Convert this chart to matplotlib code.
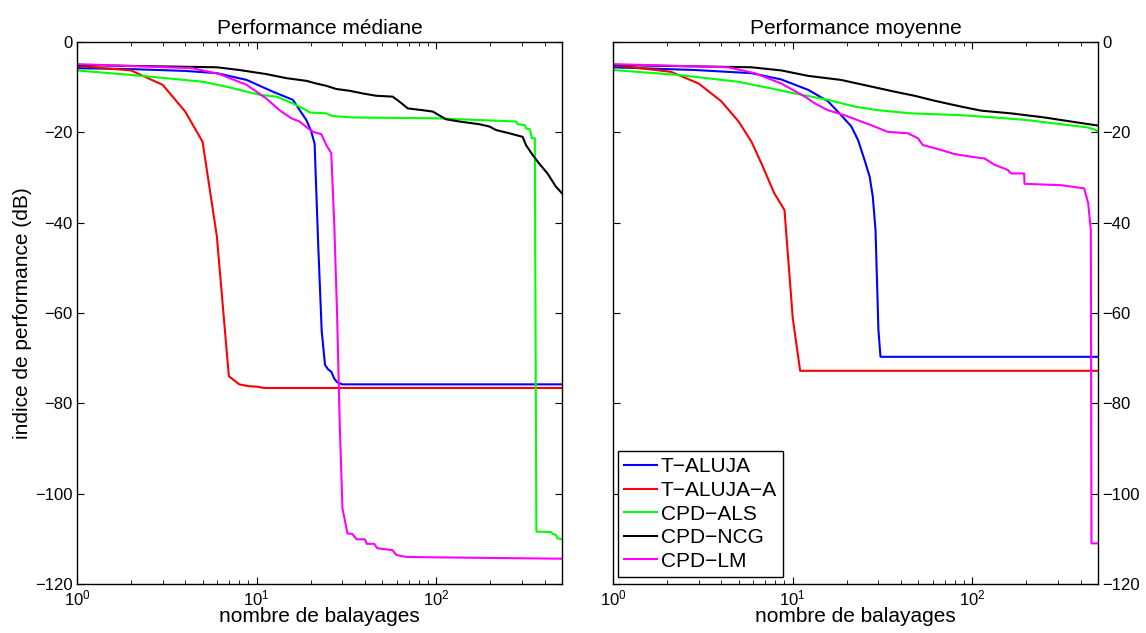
import matplotlib
matplotlib.use("Agg")
import matplotlib.pyplot as plt

plt.rcParams["font.family"] = ["Liberation Sans", "DejaVu Sans"]
plt.rcParams["mathtext.default"] = "regular"

labels = ["T\u2212ALUJA", "T\u2212ALUJA\u2212A", "CPD\u2212ALS", "CPD\u2212NCG", "CPD\u2212LM"]
colors = ["#0000ff", "#ff0000", "#00ff00", "#000000", "#ff00ff"]

# ---- Performance médiane ----
med_taluja_x = [1, 2, 4, 6, 8.8, 12.3, 15.9, 18.9, 20, 21, 22, 23, 24, 25, 26, 27, 28, 30, 500]
med_taluja_y = [-5.8, -6.0, -6.4, -6.9, -8.4, -11.0, -12.8, -17.3, -19.5, -22.5, -45, -64, -71.5,
                -72.5, -73, -74.5, -75.3, -75.8, -75.8]
med_talujaa_x = [1, 2, 3, 4, 5, 6, 7, 8, 9, 10, 11, 500]
med_talujaa_y = [-5.3, -6.3, -9.5, -15.4, -22.1, -43, -74, -75.8, -76.2, -76.3, -76.6, -76.6]
med_als_x = [1, 2.3, 5, 6.8, 10.4, 12.9, 15.9, 18.9, 19.7, 24.4, 26.5, 34.3, 100, 134, 277, 283,
             311, 315, 331, 340, 353, 356, 360, 434, 443, 462, 472, 500]
med_als_y = [-6.3, -7.5, -8.8, -9.9, -11.7, -12.1, -13.6, -15.1, -15.6, -15.8, -16.4, -16.7, -16.9,
             -17.1, -17.6, -18.2, -18.4, -19.1, -19.3, -21.3, -21.3, -60, -108.4, -108.5, -108.9,
             -109.1, -109.9, -110.1]
med_ncg_x = [1, 6, 8, 11.3, 14.6, 18.9, 21.5, 24.4, 27.7, 32.9, 39, 46.2, 57.1, 62.3, 69.3, 84,
             95.4, 113, 134, 173, 197, 215, 254, 302, 315, 343, 373, 415, 462, 500]
med_ncg_y = [-5.1, -5.6, -6.2, -7.1, -8.0, -8.6, -9.2, -9.7, -10.4, -10.8, -11.4, -11.9, -12.1,
             -13.2, -14.7, -15.1, -15.4, -17.1, -17.6, -18.2, -18.7, -19.5, -20.2, -21.0, -22.8,
             -25.0, -26.9, -29.1, -32.0, -33.5]
med_lm_x = [1, 4.4, 6.2, 8.8, 11.3, 13.4, 15.6, 17.3, 19.3, 20.6, 22.9, 24.4, 26, 27, 28, 29, 30,
            32, 34, 36, 40, 41, 45, 47, 57, 60, 68, 100, 500]
med_lm_y = [-4.9, -5.8, -7.1, -9.5, -12.5, -15.1, -16.9, -17.6, -19.1, -19.9, -20.4, -22.8, -24.6,
            -40, -60, -85, -103.2, -108.8, -108.9, -110.1, -110.1, -111.1, -111.1, -112.1, -112.5,
            -113.6, -114, -114.1, -114.4]

# ---- Performance moyenne ----
moy_taluja_x = [1, 2.85, 5.9, 8.65, 12.2, 15.7, 18.6, 21.2, 23.1, 25.1, 26.8, 27.9, 28.9, 30, 30.8, 500]
moy_taluja_y = [-5.6, -6.2, -6.9, -8.3, -10.6, -13.1, -16.2, -18.7, -21.7, -26.1, -29.8, -34.2,
                -41.6, -63.8, -69.7, -69.7]
moy_talujaa_x = [1, 2.1, 3, 4, 5, 5.9, 6.7, 7.9, 9, 10, 11, 500]
moy_talujaa_y = [-5.1, -6.6, -9.2, -13.1, -17.6, -22.1, -26.9, -33.5, -37.2, -61, -72.8, -72.8]
moy_als_x = [1, 2.31, 4.97, 7.62, 10.3, 15.7, 22.1, 29.8, 45.6, 86.5, 133, 203, 311, 437, 487, 500]
moy_als_y = [-6.2, -7.3, -8.8, -10.3, -11.4, -12.8, -14.3, -15.1, -15.8, -16.2, -16.7, -17.3,
             -18.2, -18.9, -19.5, -19.8]
moy_ncg_x = [1, 5.9, 8.65, 12.2, 18.6, 26.2, 36.9, 47.6, 61.5, 86.5, 112, 164, 251, 353, 500]
moy_ncg_y = [-5.1, -5.6, -6.3, -7.5, -8.4, -9.7, -11.0, -11.9, -13.0, -14.3, -15.2, -15.8, -16.7,
             -17.6, -18.5]
moy_lm_x = [1, 4.37, 6.15, 8.65, 11.7, 13.3, 15.7, 19.4, 24.1, 28.5, 33.8, 43.7, 49.7, 53, 67,
            79.4, 98.4, 117, 133, 157, 164, 194, 195, 311, 419, 441, 456, 460, 500]
moy_lm_y = [-4.9, -5.6, -6.9, -9.2, -12.1, -13.6, -15.1, -16.2, -17.6, -18.7, -19.9, -20.2, -21.3,
            -22.8, -23.9, -24.8, -25.4, -25.8, -27.2, -28.3, -29.1, -29.1, -31.4, -31.7, -32.4,
            -35.7, -41.6, -111, -111]

mediane = [(med_taluja_x, med_taluja_y), (med_talujaa_x, med_talujaa_y), (med_als_x, med_als_y),
           (med_ncg_x, med_ncg_y), (med_lm_x, med_lm_y)]
moyenne = [(moy_taluja_x, moy_taluja_y), (moy_talujaa_x, moy_talujaa_y), (moy_als_x, moy_als_y),
           (moy_ncg_x, moy_ncg_y), (moy_lm_x, moy_lm_y)]

fig = plt.figure(figsize=(11.46, 6.33), dpi=100)
W, H = 1146, 633
ax1 = fig.add_axes([77 / W, 1 - 584 / H, 485 / W, 542 / H])
ax2 = fig.add_axes([613 / W, 1 - 584 / H, 485 / W, 542 / H])

for ax, data, title in [(ax1, mediane, "Performance médiane"), (ax2, moyenne, "Performance moyenne")]:
    for (xx, yy), c, lab in zip(data, colors, labels):
        ax.plot(xx, yy, color=c, lw=1.5, label=lab)
    ax.set_xscale("log")
    ax.set_xlim(1, 500)
    ax.set_ylim(-120, 0)
    ax.set_yticks(range(-120, 1, 20))
    ax.tick_params(which="both", direction="in", top=True, right=True, labelsize=12, pad=3)
    ax.tick_params(which="major", length=5, width=0.8)
    ax.tick_params(which="minor", length=3, width=0.6)
    ax.set_title(title, fontsize=15, pad=6)
    ax.set_xlabel("nombre de balayages", fontsize=15, labelpad=-1)
    for s in ax.spines.values():
        s.set_linewidth(1.0)

ax1.set_ylabel("indice de performance (dB)", fontsize=15, labelpad=2)
ax2.tick_params(labelleft=False, labelright=True)

leg = ax2.legend(loc="lower left", bbox_to_anchor=(0.01, 0.013), borderaxespad=0, fontsize=15,
                 fancybox=False, edgecolor="black", framealpha=1, labelspacing=0.22,
                 handlelength=1.6, handletextpad=0.15, borderpad=0.3)
leg.get_frame().set_linewidth(1.0)

fig.savefig("out.png", dpi=100)
